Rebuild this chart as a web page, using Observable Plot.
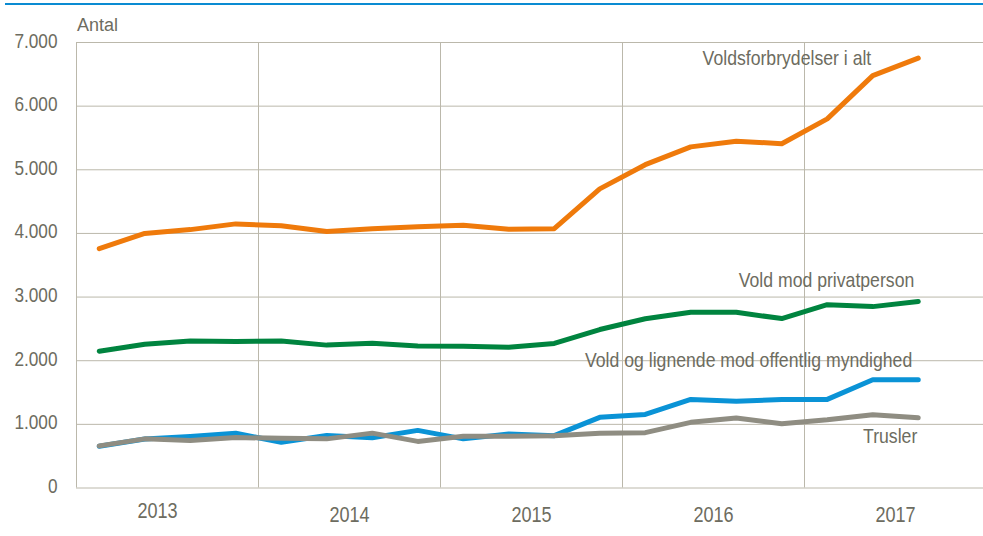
<!DOCTYPE html>
<html><head><meta charset="utf-8">
<script src="https://cdn.jsdelivr.net/npm/d3@7"></script>
<script src="https://cdn.jsdelivr.net/npm/@observablehq/plot@0.6"></script>
<style>
body{margin:0;background:#fff;}
#wrap{position:relative;width:983px;height:536px;overflow:hidden;}
#topline{position:absolute;left:5px;right:0;top:3px;height:2px;background:#0a8bd2;}
#chart{position:absolute;left:0;top:0;}
</style></head><body>
<div id="wrap"><div id="topline"></div><div id="chart"></div></div>
<script>
const quarters = ["2013K1","2013K2","2013K3","2013K4","2014K1","2014K2","2014K3","2014K4",
  "2015K1","2015K2","2015K3","2015K4","2016K1","2016K2","2016K3","2016K4","2017K1","2017K2","2017K3"];
const years = ["2013","2014","2015","2016","2017"];
const yTicks = [0,1000,2000,3000,4000,5000,6000,7000];
const voldsforbrydelser = [3760,4000,4060,4150,4120,4030,4075,4105,4130,4065,4075,4700,5080,5360,5450,5410,5800,6480,6755];
const privatperson      = [2150,2260,2310,2300,2310,2245,2275,2232,2228,2212,2272,2490,2660,2763,2760,2662,2880,2850,2930];
const myndighed         = [655,770,810,860,720,825,790,905,772,850,822,1110,1155,1392,1362,1392,1392,1702,1702];
const trusler           = [662,772,745,792,782,772,862,732,812,812,822,860,870,1032,1100,1010,1072,1152,1102];
const seriesNames = ["Voldsforbrydelser i alt","Vold mod privatperson","Vold og lignende mod offentlig myndighed","Trusler"];
const seriesValues = [voldsforbrydelser, privatperson, myndighed, trusler];
const colors = ["#ef7a0b","#00843f","#0a93d6","#8f8d82"];

const font = "'Liberation Sans',Arial,sans-serif";
const textColor = "#6d6c60";
const gridColor = "#bbb8ab";

const rows = seriesNames.flatMap((s, si) => seriesValues[si].map((v, i) => ({series: s, q: quarters[i], i: i + 0.5, v})));
const last = seriesNames.map((s, si) => ({series: s, i: quarters.length - 0.5, v: seriesValues[si][quarters.length - 1]}));
const yearRows = years.map((y, k) => ({year: y, i: k * 4 + 2}));
const boundaries = years.map((y, k) => k * 4);

const loc = d3.formatLocale({decimal: ",", thousands: ".", grouping: [3], currency: ["", ""]});
const fmt = loc.format(",");

const labelOffsets = [
  {dx: -47, dy: 0},
  {dx: -4, dy: -21},
  {dx: -6, dy: -19},
  {dx: -1, dy: 18}
];

const plot = Plot.plot({
  width: 983,
  height: 536,
  marginLeft: 76,
  marginRight: -3,
  marginTop: 42,
  marginBottom: 48.5,
  style: {fontFamily: font, background: "transparent", color: textColor},
  x: {domain: [0, 20], axis: null},
  y: {domain: [0, 7000], axis: null},
  marks: [
    Plot.gridY(yTicks, {stroke: gridColor, strokeOpacity: 1}),
    Plot.ruleX(boundaries, {stroke: gridColor, strokeOpacity: 1}),
    Plot.axisY({ticks: yTicks, tickSize: 0, tickPadding: 19, tickFormat: fmt, label: null, fontSize: 20.5, fill: textColor, dy: -1.5}),
    ...seriesNames.map((s, si) => Plot.line(rows.filter(d => d.series === s), {
      x: "i", y: "v", stroke: colors[si], strokeWidth: 5, strokeLinecap: "round", strokeLinejoin: "round"
    })),
    ...seriesNames.map((s, si) => Plot.text(last.filter(d => d.series === s), {
      x: "i", y: "v", text: "series", textAnchor: "end", fontSize: 21, fill: textColor,
      dx: labelOffsets[si].dx, dy: labelOffsets[si].dy
    })),
    Plot.text(yearRows.filter(d => d.year === "2013"), {x: "i", y: () => 0, text: "year", dx: -10, dy: 23.5, fontSize: 21.5, fill: textColor}),
    Plot.text(yearRows.filter(d => d.year !== "2013"), {x: "i", y: () => 0, text: "year", dx: 0, dy: 27.5, fontSize: 21.5, fill: textColor})
  ]
});
document.getElementById("chart").appendChild(plot);

// condensed look (Arial Narrow–like): squeeze glyphs horizontally
d3.select(plot).selectAll("text").each(function() {
  const len = this.getComputedTextLength();
  if (len > 0) {
    this.setAttribute("textLength", (len * 0.84).toFixed(2));
    this.setAttribute("lengthAdjust", "spacingAndGlyphs");
  }
});

// y-axis unit label
d3.select(plot).append("text")
  .attr("x", 77).attr("y", 30.5)
  .attr("text-anchor", "start")
  .attr("font-size", 18).attr("fill", textColor)
  .attr("font-family", font)
  .text("Antal");
</script>
</body></html>
